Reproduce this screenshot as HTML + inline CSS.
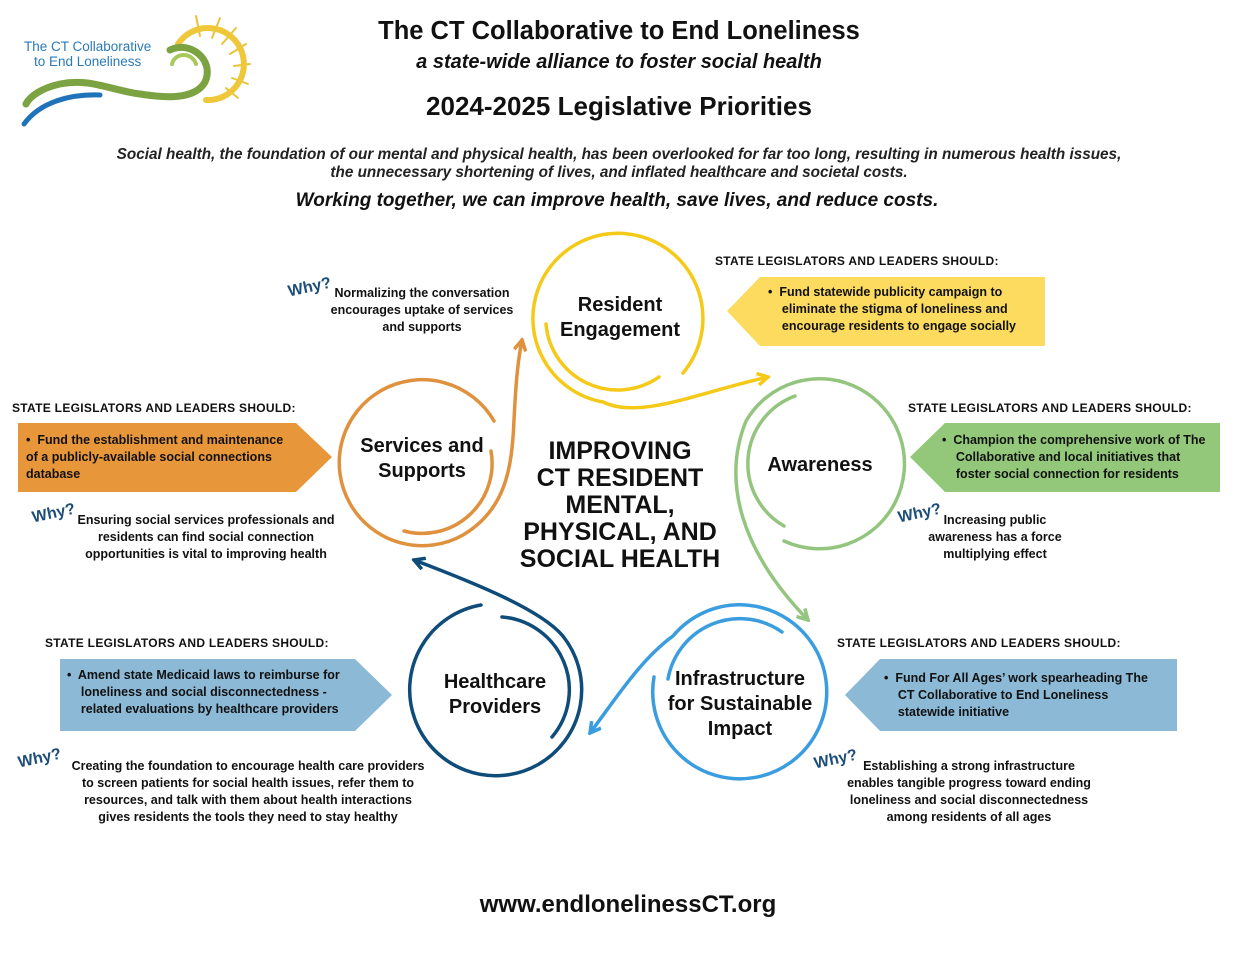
<!DOCTYPE html>
<html><head><meta charset="utf-8"><style>
body{margin:0;width:1240px;height:958px;background:#fff;position:relative;overflow:hidden;font-family:"Liberation Sans",sans-serif;color:#111}
.t{position:absolute;white-space:nowrap}
.c{text-align:center;transform:translateX(-50%)}
.h{font-size:12px;font-weight:bold;letter-spacing:.3px}
.b{font-size:12.5px;font-weight:bold;line-height:17px}
.why{position:absolute;font-size:16px;font-weight:bold;color:#1d4e7a;transform:rotate(-12deg)}
.lbl{font-size:20px;font-weight:bold;line-height:25px}
.box{position:absolute;font-size:12.5px;font-weight:bold;line-height:17px}
</style></head><body>
<svg width="1240" height="958" style="position:absolute;left:0;top:0">
<defs>
<marker id="my" viewBox="0 0 12 12" refX="10" refY="6" markerWidth="14" markerHeight="14" markerUnits="userSpaceOnUse" orient="auto"><polyline points="1,1 10,6 1,11" fill="none" stroke="#f5c918" stroke-width="3"/></marker>
<marker id="mo" viewBox="0 0 12 12" refX="10" refY="6" markerWidth="14" markerHeight="14" markerUnits="userSpaceOnUse" orient="auto"><polyline points="1,1 10,6 1,11" fill="none" stroke="#e0913e" stroke-width="3"/></marker>
<marker id="mg" viewBox="0 0 12 12" refX="10" refY="6" markerWidth="14" markerHeight="14" markerUnits="userSpaceOnUse" orient="auto"><polyline points="1,1 10,6 1,11" fill="none" stroke="#94c57f" stroke-width="3"/></marker>
<marker id="md" viewBox="0 0 12 12" refX="10" refY="6" markerWidth="14" markerHeight="14" markerUnits="userSpaceOnUse" orient="auto"><polyline points="1,1 10,6 1,11" fill="none" stroke="#0f4c7a" stroke-width="3"/></marker>
<marker id="mb" viewBox="0 0 12 12" refX="10" refY="6" markerWidth="14" markerHeight="14" markerUnits="userSpaceOnUse" orient="auto"><polyline points="1,1 10,6 1,11" fill="none" stroke="#3a9de0" stroke-width="3"/></marker>
</defs>
<!-- logo -->
<g fill="none" stroke-linecap="round">
<g stroke="#e9c43a" stroke-width="2">
<line x1="200" y1="36" x2="196" y2="16"/><line x1="212" y1="38" x2="220" y2="18"/><line x1="222" y1="44" x2="236" y2="28"/><line x1="230" y1="54" x2="246" y2="44"/><line x1="234" y1="66" x2="250" y2="64"/><line x1="232" y1="78" x2="248" y2="84"/><line x1="226" y1="88" x2="238" y2="98"/>
</g>
<path d="M178 44 A36 36 0 1 1 206 100" stroke="#eec83a" stroke-width="6"/>
<path d="M170 50 C190 40 215 60 205 82 C195 100 165 98 140 94 C110 90 90 78 60 84 C42 88 30 96 26 104" stroke="#7ba341" stroke-width="7"/>
<path d="M24 124 C40 102 70 94 100 95" stroke="#1f73b8" stroke-width="5"/>
<path d="M196 64 C192 52 175 52 172 64" stroke="#a6c95a" stroke-width="4"/>
</g>
<!-- boxes -->
<polygon points="727,311 760,277 1045,277 1045,346 760,346" fill="#fcdb5e"/>
<polygon points="18,423 296,423 332,457 296,492 18,492" fill="#e8963a"/>
<polygon points="910,457 945,423 1220,423 1220,492 945,492" fill="#93c87a"/>
<polygon points="60,659 355,659 392,695 355,731 60,731" fill="#8bb9d6"/>
<polygon points="845,695 880,659 1177,659 1177,731 880,731" fill="#8bb9d6"/>
<g fill="none" stroke-width="3.5" stroke-linecap="round">
<g stroke="#f5c918">
<path d="M683,373 A85,85 0 1 0 603,402 C640,420 700,392 768,377" marker-end="url(#my)"/>
<path d="M546,324 A72,72 0 0 0 659,377"/>
</g>
<g stroke="#e0913e">
<path d="M494,421 A83,83 0 1 0 463,535 C505,510 512,470 514,420 C516,380 518,360 522,340" marker-end="url(#mo)"/>
<path d="M491,451 A70,70 0 0 1 404,531"/>
</g>
<g stroke="#94c57f">
<path d="M784,541 A85,85 0 1 0 746,421 C722,480 740,550 808,620" marker-end="url(#mg)"/>
<path d="M795,396 A72,72 0 0 0 784,526"/>
</g>
<g stroke="#0f4c7a">
<path d="M481,605 A86,86 0 1 0 562,635 C540,610 480,585 414,560" marker-end="url(#md)"/>
<path d="M502,617 A73,73 0 0 1 552,737"/>
</g>
<g stroke="#3a9de0">
<path d="M654,677 A87,87 0 1 0 673,636 C640,660 615,700 590,733" marker-end="url(#mb)"/>
<path d="M668,679 A73,73 0 0 1 782,632"/>
</g>
</g>
</svg>
<div class="t" style="left:24px;top:39px;font-size:13.5px;color:#2b7ab8;line-height:15px;text-align:center">The CT Collaborative<br>to End Loneliness</div>

<div class="t c" style="left:619px;top:17px;font-size:25.5px;font-weight:bold">The CT Collaborative to End Loneliness</div>
<div class="t c" style="left:619px;top:51px;font-size:20px;font-weight:bold;font-style:italic">a state-wide alliance to foster social health</div>
<div class="t c" style="left:619px;top:91px;font-size:26px;font-weight:bold">2024-2025 Legislative Priorities</div>
<div class="t c" style="left:619px;top:146px;font-size:15.3px;font-style:italic;line-height:18px;font-weight:bold;color:#222">Social health, the foundation of our mental and physical health, has been overlooked for far too long, resulting in numerous health issues,<br>the unnecessary shortening of lives, and inflated healthcare and societal costs.</div>
<div class="t c" style="left:617px;top:190px;font-size:19px;font-style:italic;font-weight:bold">Working together, we can improve health, save lives, and reduce costs.</div>

<div class="t c lbl" style="left:620px;top:293px">Resident<br>Engagement</div>
<div class="t c lbl" style="left:422px;top:434px">Services and<br>Supports</div>
<div class="t c lbl" style="left:820px;top:453px">Awareness</div>
<div class="t c lbl" style="left:495px;top:670px">Healthcare<br>Providers</div>
<div class="t c lbl" style="left:740px;top:667px">Infrastructure<br>for Sustainable<br>Impact</div>
<div class="t c" style="left:620px;top:438px;font-size:25px;font-weight:bold;line-height:27px">IMPROVING<br>CT RESIDENT<br>MENTAL,<br>PHYSICAL, AND<br>SOCIAL HEALTH</div>

<div class="t h" style="left:715px;top:254px">STATE LEGISLATORS AND LEADERS SHOULD:</div>
<div class="box" style="left:768px;top:284px">•&nbsp; Fund statewide publicity campaign to<br>&nbsp;&nbsp;&nbsp; eliminate the stigma of loneliness and<br>&nbsp;&nbsp;&nbsp; encourage residents to engage socially</div>
<div class="t h" style="left:12px;top:401px">STATE LEGISLATORS AND LEADERS SHOULD:</div>
<div class="box" style="left:26px;top:432px">•&nbsp; Fund the establishment and maintenance<br>of a publicly-available social connections<br>database</div>
<div class="t h" style="left:908px;top:401px">STATE LEGISLATORS AND LEADERS SHOULD:</div>
<div class="box" style="left:942px;top:432px">•&nbsp; Champion the comprehensive work of The<br>&nbsp;&nbsp;&nbsp; Collaborative and local initiatives that<br>&nbsp;&nbsp;&nbsp; foster social connection for residents</div>
<div class="t h" style="left:45px;top:636px">STATE LEGISLATORS AND LEADERS SHOULD:</div>
<div class="box" style="left:67px;top:667px">•&nbsp; Amend state Medicaid laws to reimburse for<br>&nbsp;&nbsp;&nbsp; loneliness and social disconnectedness -<br>&nbsp;&nbsp;&nbsp; related evaluations by healthcare providers</div>
<div class="t h" style="left:837px;top:636px">STATE LEGISLATORS AND LEADERS SHOULD:</div>
<div class="box" style="left:884px;top:670px">•&nbsp; Fund For All Ages’ work spearheading The<br>&nbsp;&nbsp;&nbsp; CT Collaborative to End Loneliness<br>&nbsp;&nbsp;&nbsp; statewide initiative</div>

<div class="why" style="left:288px;top:279px">Why?</div>
<div class="t c b" style="left:422px;top:285px">Normalizing the conversation<br>encourages uptake of services<br>and supports</div>
<div class="why" style="left:32px;top:505px">Why?</div>
<div class="t c b" style="left:206px;top:512px">Ensuring social services professionals and<br>residents can find social connection<br>opportunities is vital to improving health</div>
<div class="why" style="left:898px;top:505px">Why?</div>
<div class="t c b" style="left:995px;top:512px">Increasing public<br>awareness has a force<br>multiplying effect</div>
<div class="why" style="left:18px;top:750px">Why?</div>
<div class="t c b" style="left:248px;top:758px">Creating the foundation to encourage health care providers<br>to screen patients for social health issues, refer them to<br>resources, and talk with them about health interactions<br>gives residents the tools they need to stay healthy</div>
<div class="why" style="left:814px;top:751px">Why?</div>
<div class="t c b" style="left:969px;top:758px">Establishing a strong infrastructure<br>enables tangible progress toward ending<br>loneliness and social disconnectedness<br>among residents of all ages</div>

<div class="t c" style="left:628px;top:891px;font-size:24px;font-weight:bold">www.endlonelinessCT.org</div>
</body></html>
